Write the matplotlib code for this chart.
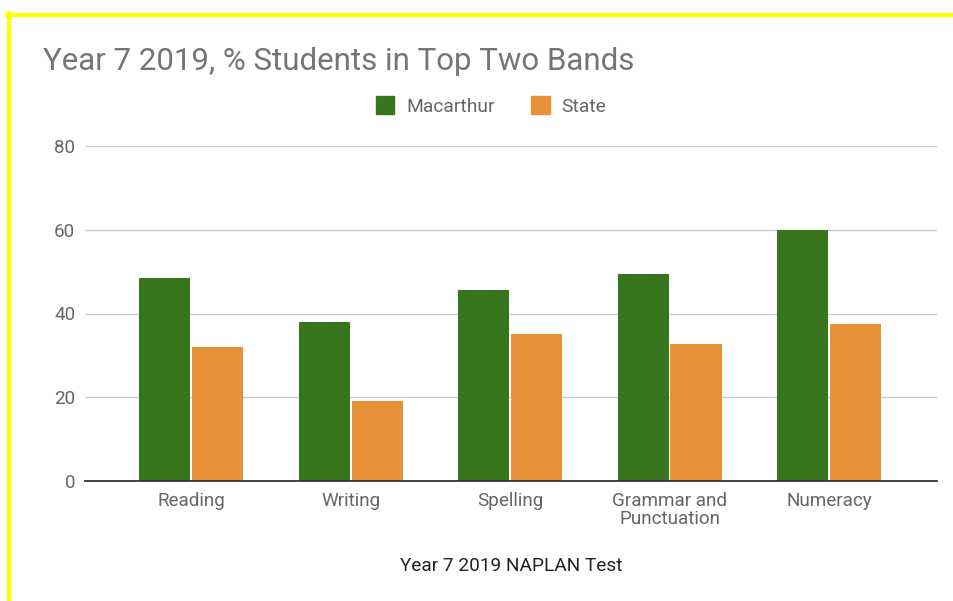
import numpy as np
import matplotlib.pyplot as plt
from matplotlib.lines import Line2D
from matplotlib.patches import Rectangle

categories = ["Reading", "Writing", "Spelling", "Grammar and\nPunctuation", "Numeracy"]
macarthur = [48.5, 38.0, 45.5, 49.4, 60.0]
state = [32.0, 19.0, 35.0, 32.7, 37.6]
yticks = [0, 20, 40, 60, 80]

green = "#38761d"
orange = "#e69138"

plt.rcParams['font.family'] = ['Roboto', 'DejaVu Sans']

fig = plt.figure(figsize=(9.54, 6.01), dpi=100)
W, H = 954, 601
ax = fig.add_axes([85 / W, 1 - 481 / H, (937 - 85) / W, (481 - 146) / H])

x = np.arange(len(categories))
bw = 0.32
ax.bar(x - bw / 2 - 0.006, macarthur, bw, color=green, label="Macarthur", zorder=3)
ax.bar(x + bw / 2 + 0.006, state, bw, color=orange, label="State", zorder=3)

ax.set_xlim(-0.665, 4.677)
ax.set_ylim(0, 80)
ax.set_yticks(yticks)
ax.set_yticklabels([str(v) for v in yticks])
ax.set_xticks(x)
ax.set_xticklabels(categories, linespacing=1.0)
ax.tick_params(axis='both', length=0, labelsize=13.6, labelcolor="#666666")
ax.tick_params(axis='y', pad=7)
ax.tick_params(axis='x', pad=8)
ax.grid(axis='y', color="#cccccc", linewidth=1, zorder=0)
for s in ["top", "right", "left"]:
    ax.spines[s].set_visible(False)
ax.spines["bottom"].set_color("#333333")
ax.spines["bottom"].set_linewidth(1.3)
ax.spines["bottom"].set_zorder(4)

fig.text(43 / W, 1 - 62 / H, "Year 7 2019, % Students in Top Two Bands",
         fontsize=22.5, color="#757575", va="center", ha="left")
fig.text(511 / W, 1 - 566 / H, "Year 7 2019 NAPLAN Test",
         fontsize=13.7, color="#222222", va="center", ha="center")

handles = [Rectangle((0, 0), 1, 1, color=green), Rectangle((0, 0), 1, 1, color=orange)]
fig.legend(handles, ["Macarthur", "State"], loc="center", bbox_to_anchor=(491 / W, 1 - 106 / H),
           ncol=2, frameon=False, fontsize=13.9, labelcolor="#666666",
           handlelength=0.95, handleheight=1.0, handletextpad=0.6, columnspacing=1.9)

# yellow frame on top and left
fig.add_artist(Line2D([7 / W, 1], [1 - 14.5 / H, 1 - 14.5 / H], color="#ffff00", linewidth=3,
                      transform=fig.transFigure))
fig.add_artist(Line2D([9 / W, 9 / W], [1 - 13 / H, 0], color="#ffff00", linewidth=3,
                      transform=fig.transFigure))

fig.savefig("out.png", dpi=100)
